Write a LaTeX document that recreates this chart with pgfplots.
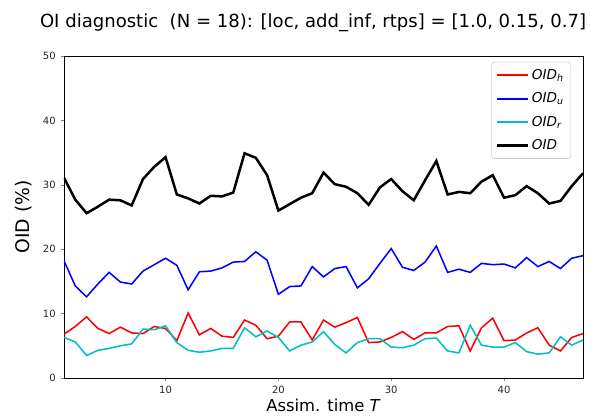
\documentclass[border=0pt]{standalone}
\usepackage{pgfplots}
\pgfplotsset{compat=1.18}
\usepackage{fontspec}
\setmainfont{DejaVu Sans}
\definecolor{mplcyan}{rgb}{0,0.75,0.75}
\pgfplotstableread{
t red blue cyan black
1 6.8 18.2 6.3 31.1
2 8.0 14.3 5.6 27.7
3 9.5 12.6 3.5 25.6
4 7.7 14.6 4.3 26.6
5 6.9 16.4 4.6 27.7
6 7.9 14.9 5.0 27.6
7 7.0 14.6 5.3 26.8
8 6.9 16.6 7.6 30.9
9 8.0 17.6 7.5 32.8
10 7.7 18.6 8.1 34.3
11 5.8 17.5 5.5 28.5
12 10.1 13.7 4.3 27.9
13 6.7 16.5 4.0 27.1
14 7.7 16.6 4.2 28.3
15 6.5 17.1 4.6 28.2
16 6.3 18.0 4.6 28.8
17 9.0 18.1 7.8 34.9
18 8.2 19.6 6.4 34.2
19 6.1 18.3 7.3 31.5
20 6.5 13.0 6.3 26.0
21 8.7 14.2 4.2 27.0
22 8.7 14.3 5.1 28.0
23 5.9 17.3 5.6 28.7
24 9.0 15.7 7.2 31.9
25 7.9 17.0 5.2 30.1
26 8.6 17.3 3.9 29.7
27 9.4 14.0 5.5 28.7
28 5.5 15.4 6.1 26.9
29 5.6 17.8 6.1 29.6
30 6.3 20.1 4.8 30.9
31 7.2 17.2 4.7 29.0
32 6.0 16.7 5.1 27.6
33 7.0 18.0 6.1 30.7
34 7.0 20.5 6.2 33.7
35 8.0 16.4 4.2 28.5
36 8.1 16.9 3.9 28.9
37 4.2 16.4 8.2 28.7
38 7.8 17.8 5.1 30.5
39 9.3 17.6 4.8 31.5
40 5.8 17.7 4.8 28.0
41 5.9 17.1 5.5 28.4
42 7.0 18.7 4.1 29.8
43 7.8 17.3 3.7 28.7
44 5.1 18.1 3.9 27.1
45 4.2 17.0 6.4 27.5
46 6.3 18.6 5.1 29.8
47 6.9 19.0 5.9 31.8
}\datatable
\begin{document}
\begin{tikzpicture}
\begin{axis}[
  scale only axis,
  width=373.7pt, height=231.8pt,
  xmin=1, xmax=47, ymin=0, ymax=50,
  xtick={10,20,30,40}, ytick={0,10,20,30,40,50},
  tick align=outside, tick pos=left,
  major tick length=2.5pt,
  tick label style={font=\fontsize{7.2}{8}\selectfont, text=black!85},
  /pgf/number format/assume math mode=true,
  axis line style={black, line width=0.6pt},
  title={OI diagnostic\ \ (N = 18): [loc, add\_inf, rtps] = [1.0, 0.15, 0.7]},
  title style={font=\fontsize{13}{15}\selectfont, yshift=8pt, xshift=-7.5pt},
  xlabel={Assim. time \textit{T}},
  xlabel style={font=\fontsize{11.8}{13}\selectfont, yshift=3pt},
  ylabel={OID (\%)},
  ylabel style={font=\fontsize{13.5}{15}\selectfont, yshift=1pt},
  legend cell align=left,
  legend style={font=\fontsize{9.8}{12}\selectfont, draw=black!20, rounded corners=2pt, fill=white, inner xsep=3pt, inner ysep=3pt, row sep=4.1pt, at={(0.977,0.982)}, anchor=north east},
  legend image post style={xscale=1.3},
]
\coordinate (sw) at (rel axis cs:0,0);
\addlegendimage{color=red, line width=1.45pt}
\addlegendentry{\textit{OID}\textsubscript{\textit{h}}}
\addlegendimage{color=blue, line width=1.45pt}
\addlegendentry{\textit{OID}\textsubscript{\textit{u}}}
\addlegendimage{color=mplcyan, line width=1.45pt}
\addlegendentry{\textit{OID}\textsubscript{\textit{r}}}
\addlegendimage{color=black, line width=1.8pt}
\addlegendentry{\textit{OID}}
\addplot[color=red, line width=1.1pt, forget plot] table[x=t, y=red] {\datatable};
\addplot[color=blue, line width=1.1pt, forget plot] table[x=t, y=blue] {\datatable};
\addplot[color=mplcyan, line width=1.1pt, forget plot] table[x=t, y=cyan] {\datatable};
\addplot[color=black, line width=1.8pt, forget plot] table[x=t, y=black] {\datatable};
\end{axis}
\pgfresetboundingbox
\path[use as bounding box] ([shift={(-46.08pt,-27.36pt)}]sw) rectangle ([shift={(383.76pt,272.16pt)}]sw);
\end{tikzpicture}
\end{document}
